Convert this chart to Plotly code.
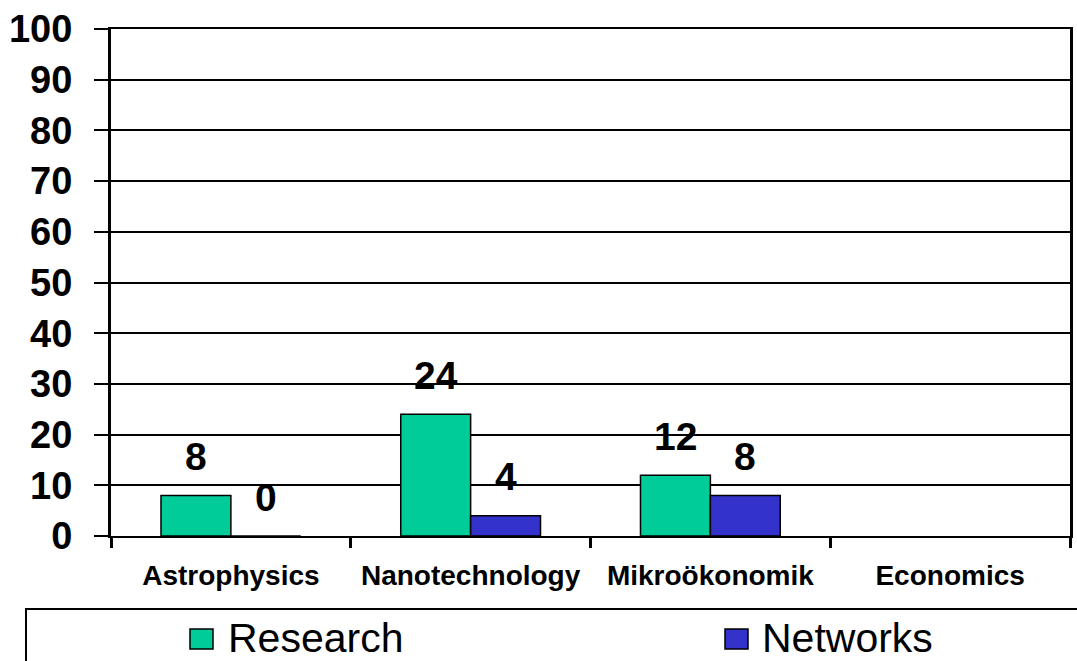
import plotly.graph_objects as go

# Data
categories = ["Astrophysics", "Nanotechnology", "Mikroökonomik", "Economics"]
series_names = ["Research", "Networks"]
research = [8, 24, 12, None]
networks = [0, 4, 8, None]
series_values = [research, networks]
series_colors = ["#00CC99", "#3333CC"]
y_ticks = [0, 10, 20, 30, 40, 50, 60, 70, 80, 90, 100]

# Layout geometry (pixels)
W, H = 1077, 661
ML, MR, MT, MB = 111, 7, 29, 125
BARGAP = 0.417
FONT = "Liberation Sans, Arial, sans-serif"

plot_w = W - ML - MR
plot_h = H - MT - MB


def px_x(x):
    return (x - ML) / plot_w


def px_y(y):
    return (H - MB - y) / plot_h


fig = go.Figure()
for name, vals, color in zip(series_names, series_values, series_colors):
    fig.add_trace(go.Bar(
        x=categories, y=vals, name=name,
        marker=dict(color=color, line=dict(color="black", width=1.5)),
        showlegend=False,
    ))

# Value labels above each bar
bar_w = (1 - BARGAP) / len(series_names)
annotations = []
for k, vals in enumerate(series_values):
    for i, v in enumerate(vals):
        if v is None:
            continue
        annotations.append(dict(
            x=i + (k - (len(series_names) - 1) / 2) * bar_w, y=v,
            xref="x", yref="y", text=str(v), showarrow=False,
            yshift=39, font=dict(family=FONT, size=39, color="black", weight="bold"),
        ))

# Legend box and entries
legend_x = [(190, 226), (725, 760)]
shapes = [dict(
    type="path", xref="paper", yref="paper",
    path=f"M {px_x(26)} {px_y(H + 5)} L {px_x(26)} {px_y(609)} L {px_x(W + 5)} {px_y(609)}",
    line=dict(color="black", width=2),
)]
for (sx, tx), name, color in zip(legend_x, series_names, series_colors):
    shapes.append(dict(
        type="rect", xref="paper", yref="paper",
        x0=px_x(sx), x1=px_x(sx + 23), y0=px_y(649), y1=px_y(629),
        fillcolor=color, line=dict(color="black", width=1.5),
    ))
    annotations.append(dict(
        x=px_x(tx), y=px_y(638), xref="paper", yref="paper",
        text=name, showarrow=False, xanchor="left", yanchor="middle",
        font=dict(family=FONT, size=41, color="black"),
    ))

fig.update_layout(
    width=W, height=H,
    margin=dict(l=ML, r=MR, t=MT, b=MB, pad=0),
    paper_bgcolor="white", plot_bgcolor="white",
    barmode="group", bargap=BARGAP, bargroupgap=0,
    shapes=shapes, annotations=annotations,
    font=dict(family=FONT, color="black"),
)
fig.update_xaxes(
    type="category", tickson="boundaries", ticks="outside", ticklen=10,
    tickwidth=3, tickcolor="black", showgrid=False, automargin=False,
    showline=True, linecolor="black", linewidth=2, mirror=True,
    tickfont=dict(family=FONT, size=28, color="black", weight="bold"),
    ticklabelstandoff=13, range=[-0.5, 3.5],
)
fig.update_yaxes(
    range=[0, 100], tickvals=y_ticks, ticks="outside", ticklen=14,
    tickwidth=2, tickcolor="black", showgrid=True, gridcolor="black", gridwidth=2,
    showline=True, linecolor="black", linewidth=3, mirror=True, zeroline=False,
    automargin=False,
    tickfont=dict(family=FONT, size=38, color="black", weight="bold"),
    ticklabelstandoff=14,
)

fig.write_html("out.html")
